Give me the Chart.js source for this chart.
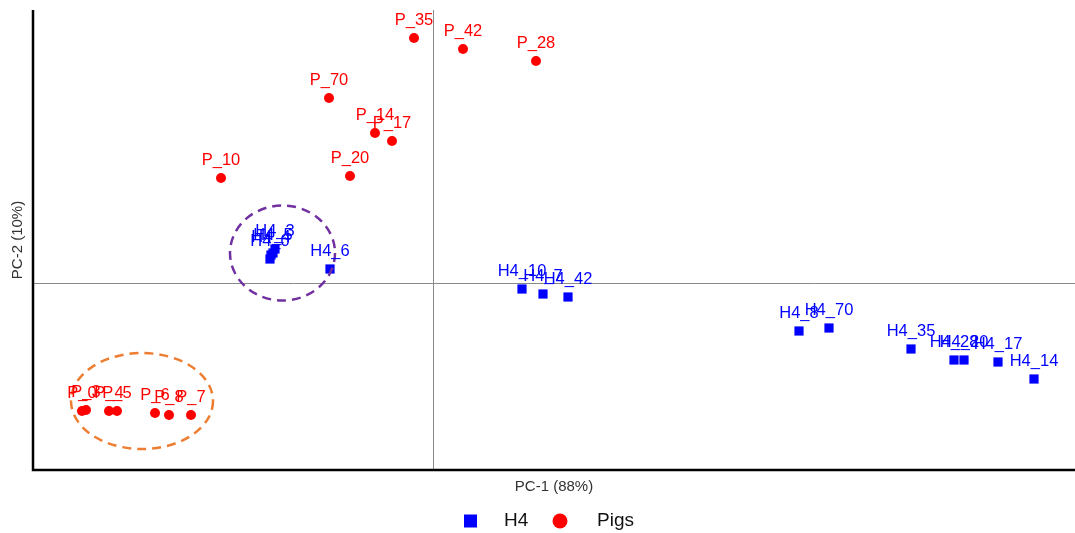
<!DOCTYPE html>
<html>
<head>
<meta charset="utf-8">
<title>PCA</title>
<script src="https://cdn.jsdelivr.net/npm/chart.js@4"></script>
<style>
  html, body { margin: 0; padding: 0; background: #fff; }
  #wrap { width: 1075px; height: 533px; }
</style>
</head>
<body>
<div id="wrap"><canvas id="pca"></canvas></div>
<script>
// PCA scores, H4 samples
const h4Labels = ["H4_6", "H4_0", "H4_4", "H4_5", "H4_3", "H4_10", "H4_7", "H4_42",
  "H4_8", "H4_70", "H4_35", "H4_28", "H4_20", "H4_17", "H4_14"];
const h4PC1 = [-1.03, -1.63, -1.62, -1.60, -1.58, 0.89, 1.10, 1.35,
  3.66, 3.96, 4.78, 5.21, 5.31, 5.65, 6.01];
const h4PC2 = [0.14, 0.24, 0.28, 0.30, 0.34, -0.06, -0.11, -0.14,
  -0.48, -0.45, -0.66, -0.77, -0.77, -0.79, -0.96];

// PCA scores, pig samples
const pigLabels = ["P_35", "P_42", "P_28", "P_70", "P_14", "P_17", "P_10", "P_20",
  "P_0", "P_3", "P_4", "P_5", "P_6", "P_8", "P_7"];
const pigPC1 = [-0.19, 0.30, 1.03, -1.04, -0.58, -0.41, -2.12, -0.83,
  -3.51, -3.47, -3.24, -3.16, -2.78, -2.64, -2.42];
const pigPC2 = [2.45, 2.34, 2.22, 1.85, 1.50, 1.42, 1.05, 1.07,
  -1.28, -1.27, -1.28, -1.28, -1.30, -1.32, -1.32];

const xTitle = "PC-1 (88%)";
const yTitle = "PC-2 (10%)";

// dashed rings around the early time points (data units)
const rings = [
  { cx: -1.505, cy: 0.30, rx: 0.525, ry: 0.475, color: "#7030a0" },
  { cx: -2.91, cy: -1.18, rx: 0.71, ry: 0.48, color: "#ed7d31" }
];

const FONT = "'Liberation Sans', Arial, sans-serif";

function toPoints(xs, ys) {
  return xs.map((v, i) => ({ x: v, y: ys[i] }));
}

const overlay = {
  id: "overlay",
  beforeDatasetsDraw(chart) {
    const { ctx, chartArea: a, scales } = chart;
    const x0 = Math.round(scales.x.getPixelForValue(0)) + 0.5;
    const y0 = Math.round(scales.y.getPixelForValue(0)) + 0.5;
    ctx.save();
    ctx.strokeStyle = "#8a8a8a";
    ctx.lineWidth = 1;
    ctx.beginPath();
    ctx.moveTo(x0, a.top);
    ctx.lineTo(x0, a.bottom);
    ctx.moveTo(a.left, y0);
    ctx.lineTo(a.right, y0);
    ctx.stroke();
    ctx.strokeStyle = "#000";
    ctx.lineWidth = 2.5;
    ctx.beginPath();
    ctx.moveTo(a.left, a.top);
    ctx.lineTo(a.left, a.bottom);
    ctx.lineTo(a.right, a.bottom);
    ctx.stroke();
    ctx.restore();
  },
  afterDatasetsDraw(chart) {
    const { ctx, chartArea: a, scales } = chart;
    const sx = scales.x, sy = scales.y;
    ctx.save();

    // rings
    ctx.lineWidth = 2.5;
    ctx.setLineDash([9, 6]);
    rings.forEach((r) => {
      const cx = sx.getPixelForValue(r.cx);
      const cy = sy.getPixelForValue(r.cy);
      const rx = Math.abs(sx.getPixelForValue(r.cx + r.rx) - cx);
      const ry = Math.abs(sy.getPixelForValue(r.cy + r.ry) - cy);
      ctx.strokeStyle = r.color;
      ctx.beginPath();
      ctx.ellipse(cx, cy, rx, ry, 0, 0, Math.PI * 2);
      ctx.stroke();
    });
    ctx.setLineDash([]);

    // sample names above each mark
    ctx.font = "16.5px " + FONT;
    ctx.textAlign = "center";
    ctx.textBaseline = "alphabetic";
    chart.data.datasets.forEach((ds, i) => {
      const meta = chart.getDatasetMeta(i);
      ctx.fillStyle = ds.backgroundColor;
      meta.data.forEach((pt, j) => {
        ctx.fillText(ds.names[j], pt.x, pt.y - 13);
      });
    });

    // axis titles
    ctx.fillStyle = "#333";
    ctx.font = "15px " + FONT;
    ctx.fillText(xTitle, (a.left + a.right) / 2, a.bottom + 21);
    ctx.save();
    ctx.translate(a.left - 11, (a.top + a.bottom) / 2);
    ctx.rotate(-Math.PI / 2);
    ctx.fillText(yTitle, 0, 0);
    ctx.restore();

    // legend
    const mid = (a.left + a.right) / 2;
    const ly = 521;
    ctx.font = "19px " + FONT;
    ctx.textAlign = "left";
    ctx.textBaseline = "middle";
    const [h4, pigs] = chart.data.datasets;
    ctx.fillStyle = h4.backgroundColor;
    ctx.fillRect(mid - 90, ly - 6.5, 13, 13);
    ctx.fillStyle = "#111";
    ctx.fillText(h4.label, mid - 50, ly);
    ctx.fillStyle = pigs.backgroundColor;
    ctx.beginPath();
    ctx.arc(mid + 6, ly, 7.5, 0, Math.PI * 2);
    ctx.fill();
    ctx.fillStyle = "#111";
    ctx.fillText(pigs.label, mid + 43, ly);

    ctx.restore();
  }
};

new Chart(document.getElementById("pca"), {
  type: "scatter",
  data: {
    datasets: [
      {
        label: "H4",
        names: h4Labels,
        data: toPoints(h4PC1, h4PC2),
        pointStyle: "rect",
        pointRadius: 6.5,
        pointHoverRadius: 6.5,
        borderWidth: 0,
        backgroundColor: "#0000ff",
        borderColor: "#0000ff"
      },
      {
        label: "Pigs",
        names: pigLabels,
        data: toPoints(pigPC1, pigPC2),
        pointStyle: "circle",
        pointRadius: 5,
        pointHoverRadius: 5,
        borderWidth: 0,
        backgroundColor: "#ff0000",
        borderColor: "#ff0000"
      }
    ]
  },
  options: {
    responsive: true,
    maintainAspectRatio: false,
    animation: false,
    layout: {
      autoPadding: false,
      padding: { left: 33, right: 0, top: 10, bottom: 63 }
    },
    scales: {
      x: { display: false, min: -4.0, max: 6.42 },
      y: { display: false, min: -1.87, max: 2.73 }
    },
    plugins: {
      legend: { display: false },
      tooltip: { enabled: false }
    }
  },
  plugins: [overlay]
});
</script>
</body>
</html>
